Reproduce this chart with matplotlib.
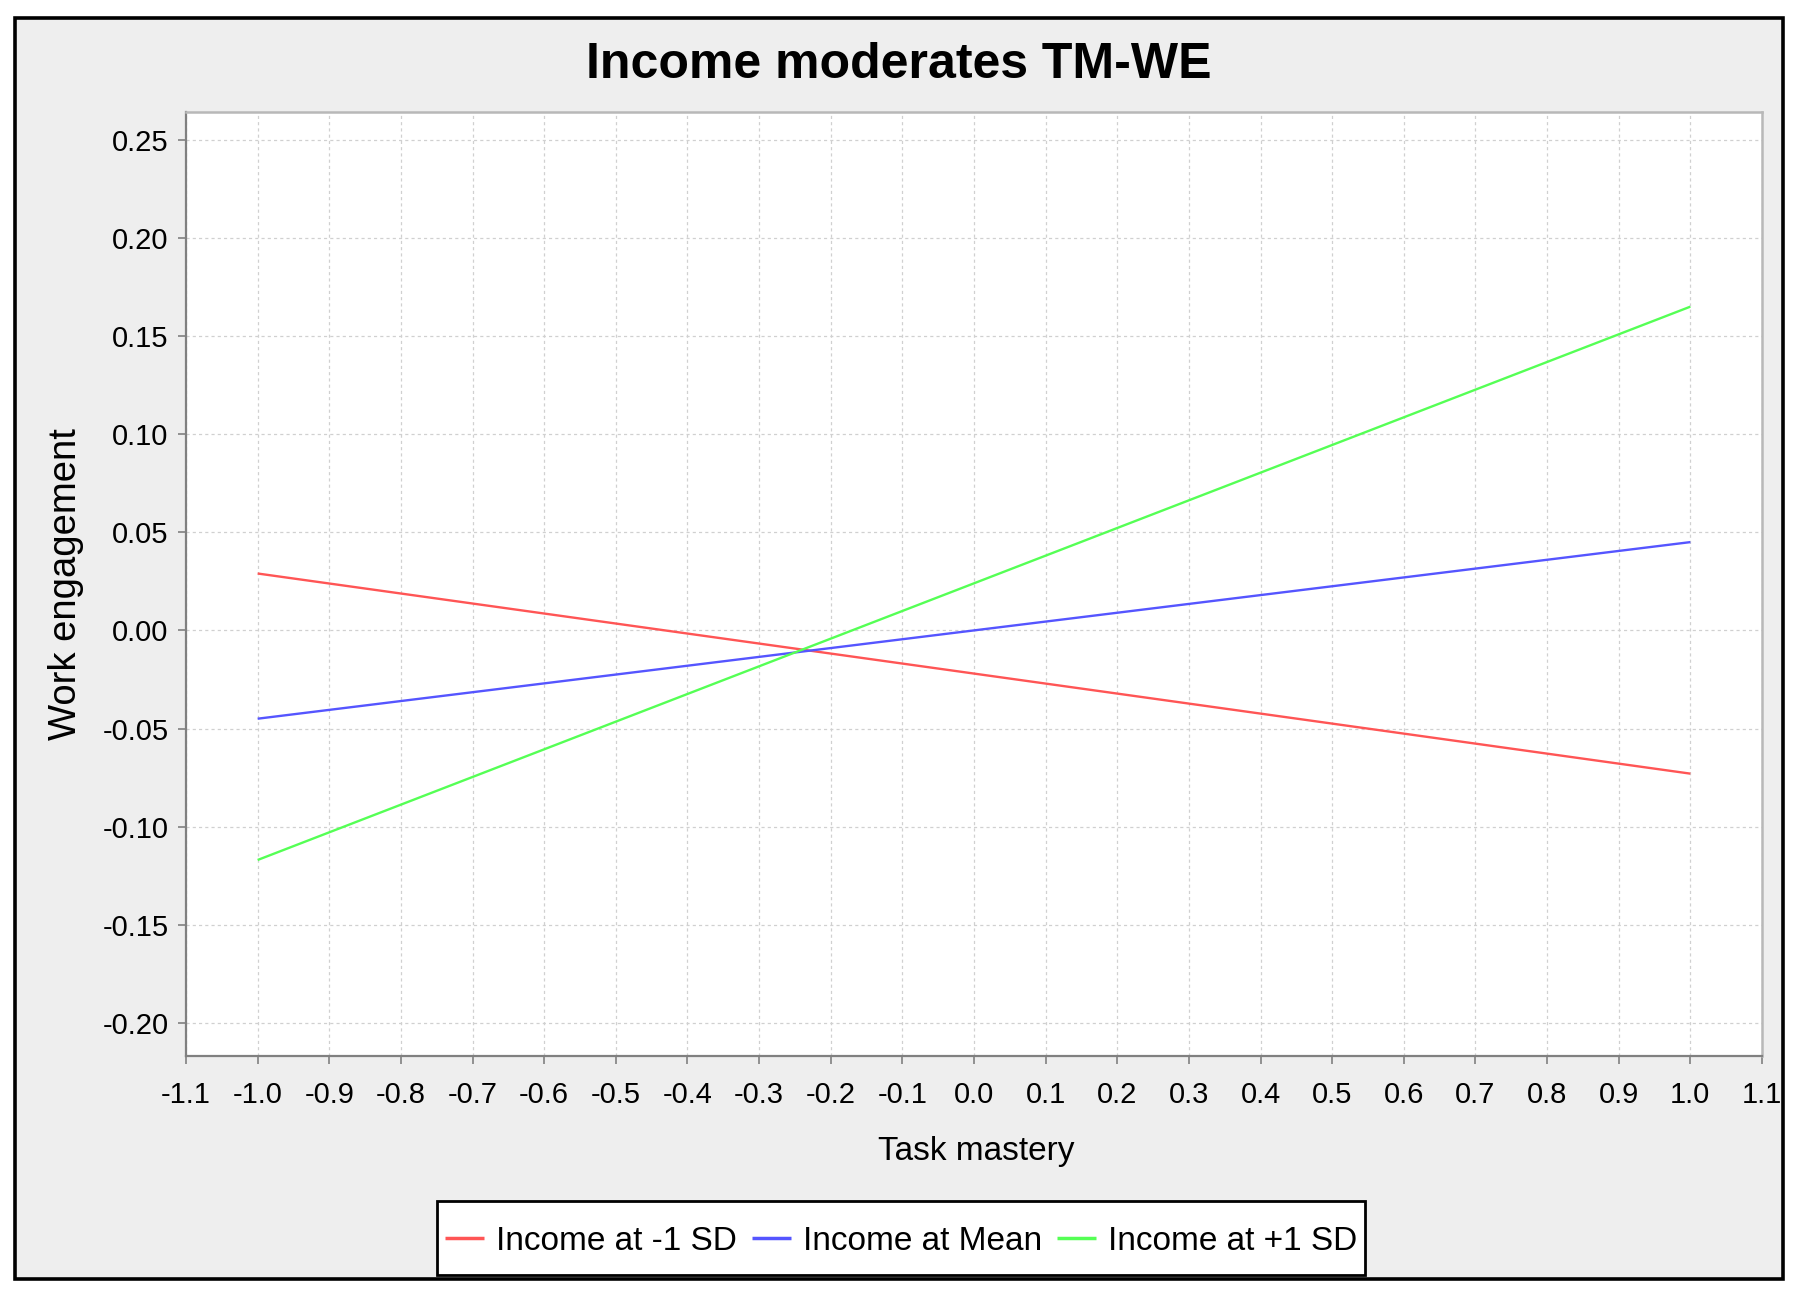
import matplotlib
matplotlib.use("Agg")
import matplotlib.pyplot as plt
from matplotlib.patches import Rectangle

plt.rcParams['font.family'] = ['Liberation Sans', 'DejaVu Sans']
plt.rcParams['axes.unicode_minus'] = False

# data
task_mastery = [-1.0, 1.0]
income_low = [0.029, -0.073]
income_mean = [-0.045, 0.045]
income_high = [-0.117, 0.165]
series_names = ["Income at -1 SD", "Income at Mean", "Income at +1 SD"]
series_colors = ["#FF5555", "#5555FF", "#55FF55"]
x_ticks = [-1.1, -1.0, -0.9, -0.8, -0.7, -0.6, -0.5, -0.4, -0.3, -0.2, -0.1,
           0.0, 0.1, 0.2, 0.3, 0.4, 0.5, 0.6, 0.7, 0.8, 0.9, 1.0, 1.1]
y_ticks = [-0.20, -0.15, -0.10, -0.05, 0.00, 0.05, 0.10, 0.15, 0.20, 0.25]

W, H = 1798, 1296
fig = plt.figure(figsize=(W / 100, H / 100), dpi=100)
fig.patch.set_facecolor("white")

# outer grey panel with black frame
fig.patches.append(Rectangle((15 / W, 1 - 1279 / H), (1783 - 15) / W, (1279 - 18) / H,
                             transform=fig.transFigure, facecolor="#EEEEEE",
                             edgecolor="black", linewidth=2.6, zorder=-1))
# legend box, sitting on the bottom edge of the panel
fig.patches.append(Rectangle((437 / W, 1 - 1275 / H), (1365 - 437) / W, (1275 - 1201) / H,
                             transform=fig.transFigure, facecolor="white",
                             edgecolor="black", linewidth=2.0, zorder=1))

ax = fig.add_axes([186 / W, 1 - 1056 / H, (1762 - 186) / W, (1056 - 112) / H])
ax.set_facecolor("white")

for ys, name, col in zip([income_low, income_mean, income_high], series_names, series_colors):
    ax.plot(task_mastery, ys, color=col, linewidth=1.7, label=name, solid_capstyle="butt")

ax.set_xlim(-1.1, 1.1)
ax.set_ylim(-0.2169, 0.2642)
ax.set_xticks(x_ticks)
ax.set_xticklabels([f"{v:.1f}" for v in x_ticks])
ax.set_yticks(y_ticks)
ax.set_yticklabels([f"{v:.2f}" for v in y_ticks])
ax.grid(True, color="#D0D0D0", linestyle=(0, (2.5, 2.5)), linewidth=0.9)
ax.set_axisbelow(True)

ax.tick_params(length=5.5, width=1.2, color="#808080", labelsize=21)
ax.tick_params(axis="y", pad=7)
ax.tick_params(axis="x", pad=12.5)
for s in ["left", "bottom"]:
    ax.spines[s].set_color("#808080")
    ax.spines[s].set_linewidth(1.6)
for s in ["top", "right"]:
    ax.spines[s].set_color("#B8B8B8")
    ax.spines[s].set_linewidth(1.8)

fig.text(0.5, 1 - 78 / H, "Income moderates TM-WE", ha="center", va="baseline",
         fontsize=36, fontweight="bold")
fig.text(976 / W, 1 - 1160 / H, "Task mastery", ha="center", va="baseline", fontsize=24)
fig.text(66 / W, 1 - 584 / H, "Work engagement", ha="center", va="center",
         rotation=90, fontsize=27.5)

leg = fig.legend(loc="center", bbox_to_anchor=(901 / W, 1 - 1241.5 / H), ncol=3,
                 fontsize=24, frameon=False,
                 handlelength=1.18, handletextpad=0.35,
                 columnspacing=0.45, borderpad=0.27, borderaxespad=0)
leg.set_zorder(2)
for line in leg.get_lines():
    line.set_linewidth(2.5)

fig.savefig("out.png", dpi=100)
